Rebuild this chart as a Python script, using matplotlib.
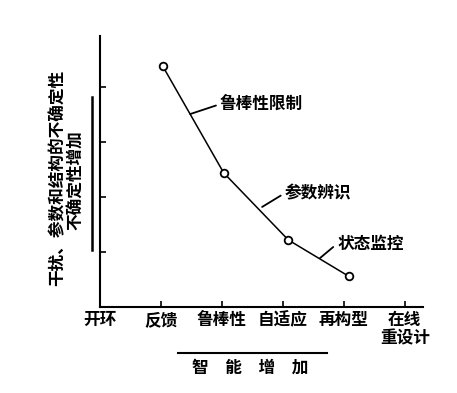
import matplotlib
matplotlib.use('Agg')
from matplotlib import pyplot as plt
from matplotlib.lines import Line2D

plt.rcParams['font.family'] = ['Noto Sans CJK SC', 'DejaVu Sans']

# categories along the x axis
categorias = ['开环', '反馈', '鲁棒性', '自适应', '再构型', '在线\n重设计']
# points of the uncertainty curve
puntosX = [1.03, 2.03, 3.09, 4.08]
puntosY = [4.38, 2.44, 1.22, 0.56]
# annotations on the curve
etiquetas = ['鲁棒性限制', '参数辨识', '状态监控']
etiquetaXY = [(1.48, 3.51), (2.66, 1.82), (3.61, 0.89)]
etiquetaTexto = [(1.97, 3.69), (3.03, 2.07), (3.89, 1.15)]

W, H = 457, 393
fs = 12
fig = plt.figure(figsize=(W / 100, H / 100), dpi=100)
ax = fig.add_axes([100 / W, (H - 307) / H, (423 - 100) / W, (307 - 36) / H])

ax.plot(puntosX, puntosY, color='black', lw=1.1, marker='o', markersize=5.5,
        markerfacecolor='white', markeredgecolor='black', markeredgewidth=1.3)

for txt, xy, xyt in zip(etiquetas, etiquetaXY, etiquetaTexto):
    ax.annotate(txt, xy=xy, xytext=xyt, ha='left', va='center', fontsize=fs,
                fontweight='bold',
                arrowprops=dict(arrowstyle='-', color='black', lw=1.3,
                                shrinkA=1, shrinkB=0, relpos=(0, 0.5)))

ax.set_xlim(0, 5.3)
ax.set_ylim(0, 4.93)
ax.set_xticks(range(len(categorias)))
ax.set_xticklabels(categorias, fontsize=fs, fontweight='bold', linespacing=1.05)
ax.get_xticklabels()[0].set_x(0.08)
ax.set_yticks([1, 2, 3, 4])
ax.set_yticklabels([])
ax.tick_params(axis='both', direction='in', length=4, width=1.2, pad=3)
ax.spines['top'].set_visible(False)
ax.spines['right'].set_visible(False)
ax.spines['left'].set_linewidth(1.5)
ax.spines['bottom'].set_linewidth(1.5)

# etiqueta del eje y (dos lineas) y la flecha vertical
fig.text(58 / W, 1 - 178 / H, '干扰、参数和结构的不确定性', rotation=90, fontsize=fs,
         fontweight='bold', ha='center', va='center')
fig.text(76 / W, 1 - 180 / H, '不确定性增加', rotation=90, fontsize=fs,
         fontweight='bold', ha='center', va='center')
fig.add_artist(Line2D([92 / W, 92 / W], [1 - 97 / H, 1 - 250 / H], color='black', lw=1.8))

# linea inferior y texto
fig.add_artist(Line2D([178 / W, 327 / W], [1 - 353 / H, 1 - 353 / H], color='black', lw=1.5))
fig.text(250 / W, 1 - 368 / H, '智　能　增　加', fontsize=fs, fontweight='bold',
         ha='center', va='center')

fig.savefig('out.png', dpi=100, facecolor='white')
